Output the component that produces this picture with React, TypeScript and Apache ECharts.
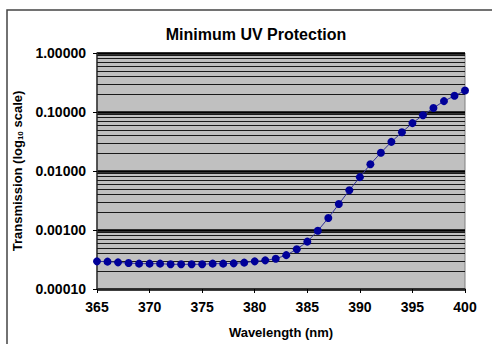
import React, { useEffect, useRef } from "react";
import * as echarts from "echarts";

const wavelengths = [365, 366, 367, 368, 369, 370, 371, 372, 373, 374, 375, 376, 377, 378, 379, 380, 381, 382, 383, 384, 385, 386, 387, 388, 389, 390, 391, 392, 393, 394, 395, 396, 397, 398, 399, 400];
const transmission = [
  0.000294, 0.000291, 0.000283, 0.000275, 0.000269, 0.000269, 0.000269, 0.000262, 0.000262, 0.000262,
  0.000262, 0.000269, 0.000269, 0.000272, 0.00028, 0.000294, 0.000306, 0.000326, 0.000375, 0.000472,
  0.000635, 0.00097, 0.0016, 0.00275, 0.00472, 0.00787, 0.013, 0.0204, 0.0312, 0.0453,
  0.0648, 0.0883, 0.117, 0.153, 0.188, 0.231,
];
const decades = [0.0001, 0.001, 0.01, 0.1];
const minorMultipliers = [2, 3, 4, 5, 6, 7, 8, 9];

const FONT = "'Liberation Sans', Arial, sans-serif";

export default function App() {
  const ref = useRef<HTMLDivElement>(null);
  useEffect(() => {
    if (!ref.current) return;
    const chart = echarts.init(ref.current, undefined, { renderer: "svg" });
    const minorGrid: number[] = [];
    decades.forEach((d) =>
      minorMultipliers.forEach((m) => minorGrid.push(parseFloat((m * d).toPrecision(3))))
    );
    chart.setOption({
      animation: false,
      backgroundColor: "#ffffff",
      textStyle: { fontFamily: FONT },
      title: {
        text: "Minimum UV Protection",
        left: 251,
        top: 21,
        textAlign: "center",
        textStyle: { fontFamily: FONT, fontSize: 16, fontWeight: "bold", color: "#000" },
      },
      graphic: [
        {
          type: "rect",
          shape: { x: 7, y: 10, width: 600, height: 400 },
          style: { fill: "none", stroke: "#444", lineWidth: 1.5 },
          silent: true,
        },
      ],
      grid: {
        left: 97,
        right: 27,
        top: 53,
        bottom: 52,
        show: true,
        backgroundColor: "#c0c0c0",
        borderColor: "#808080",
        borderWidth: 1,
      },
      xAxis: {
        type: "value",
        min: 365,
        max: 400,
        interval: 5,
        name: "Wavelength (nm)",
        nameLocation: "middle",
        nameGap: 37,
        nameTextStyle: { fontFamily: FONT, fontSize: 13, fontWeight: "bold", color: "#000" },
        axisLine: { show: true, lineStyle: { color: "#333", width: 1.5 } },
        axisTick: { show: true, length: 4, lineStyle: { color: "#000", width: 1 } },
        axisLabel: { fontFamily: FONT, fontSize: 14, fontWeight: "bold", color: "#000", margin: 11 },
        splitLine: { show: false },
      },
      yAxis: {
        type: "log",
        logBase: 10,
        min: 0.0001,
        max: 1,
        name: "Transmission (log{sub|10} scale)",
        nameLocation: "middle",
        nameGap: 72,
        nameTextStyle: {
          fontFamily: FONT,
          fontSize: 13,
          fontWeight: "bold",
          color: "#000",
          rich: {
            sub: { fontFamily: FONT, fontSize: 8, fontWeight: "bold", color: "#000", verticalAlign: "bottom", padding: [6, 0, 0, 0] },
          },
        },
        axisLine: { show: true, lineStyle: { color: "#333", width: 1.5 } },
        axisTick: { show: true, length: 4, lineStyle: { color: "#000", width: 1 } },
        axisLabel: {
          fontFamily: FONT,
          fontSize: 14,
          fontWeight: "bold",
          color: "#000",
          margin: 11,
          formatter: (v: number) => v.toFixed(5),
        },
        splitLine: { show: true, lineStyle: { color: "#000", width: 2.5 } },
      },
      series: [
        {
          type: "line",
          z: 3,
          clip: false,
          data: wavelengths.map((w, i) => [w, transmission[i]]),
          symbol: "circle",
          symbolSize: 8,
          itemStyle: { color: "#000099" },
          lineStyle: { color: "#333399", width: 1 },
          markLine: {
            z: 1,
            silent: true,
            precision: 8,
            symbol: ["none", "none"],
            label: { show: false },
            lineStyle: { color: "#1a1a1a", width: 1, type: "solid" },
            emphasis: { disabled: true },
            data: minorGrid.map((v) => ({ yAxis: v })),
          },
        },
      ],
    });
    return () => chart.dispose();
  }, []);
  return <div ref={ref} style={{ position: "fixed", left: 0, top: 0, width: 492, height: 344 }} />;
}
